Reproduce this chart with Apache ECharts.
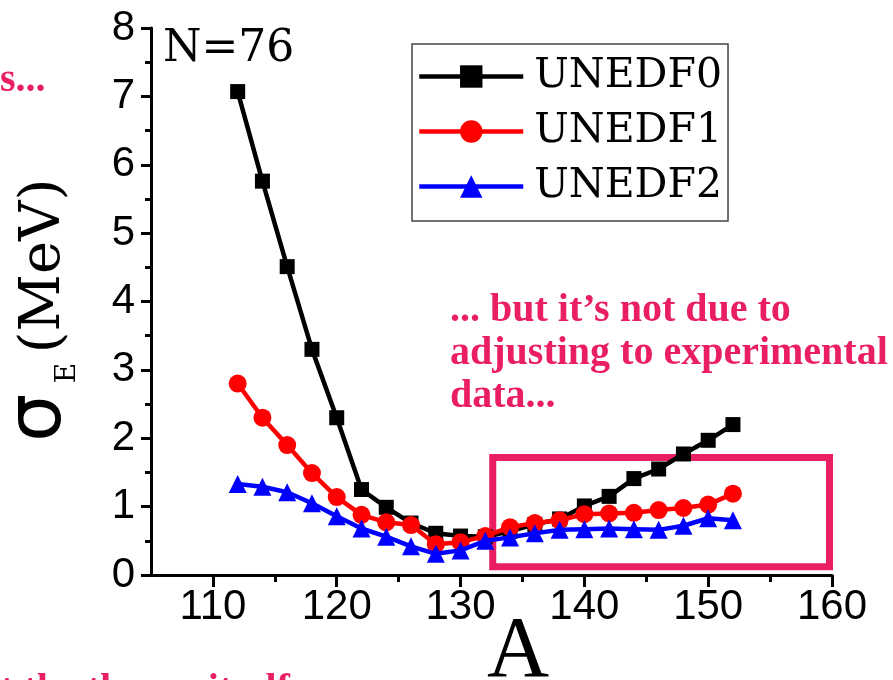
<!DOCTYPE html>
<html>
<head>
<meta charset="utf-8">
<script src="https://cdn.jsdelivr.net/npm/echarts@6/dist/echarts.min.js"></script>
<style>
  html, body { margin: 0; padding: 0; background: #fff; }
  #main { width: 893px; height: 680px; }
</style>
</head>
<body>
<div id="main"></div>
<script>
  // mass number A, N = 76 isotones
  let massNumbers = [112, 114, 116, 118, 120, 122, 124, 126, 128, 130, 132, 134, 136, 138, 140, 142, 144, 146, 148, 150, 152];
  let unedf0 = [7.07, 5.76, 4.51, 3.30, 2.30, 1.25, 0.99, 0.76, 0.61, 0.57, 0.56, 0.64, 0.74, 0.82, 1.01, 1.15, 1.41, 1.55, 1.77, 1.97, 2.20];
  let unedf1 = [2.80, 2.30, 1.90, 1.49, 1.14, 0.88, 0.77, 0.73, 0.45, 0.48, 0.57, 0.70, 0.76, 0.80, 0.89, 0.90, 0.91, 0.95, 0.98, 1.03, 1.19];
  let unedf2 = [1.33, 1.29, 1.21, 1.05, 0.86, 0.68, 0.56, 0.42, 0.31, 0.36, 0.50, 0.55, 0.61, 0.66, 0.67, 0.68, 0.67, 0.66, 0.72, 0.83, 0.80];
  let xMajorTicks = [110, 120, 130, 140, 150, 160];
  let xMinorTicks = [115, 125, 135, 145, 155];
  // highlighted region (data coords)
  let boxX = [132.6, 159.8];
  let boxY = [0.12, 1.72];

  let pink = '#e91e63';

  function pairs(ys) {
    return massNumbers.map((a, i) => [a, ys[i]]);
  }

  let chart = echarts.init(document.getElementById('main'));

  let option = {
    animation: false,
    backgroundColor: '#fff',
    grid: { left: 151, right: 61, top: 28, bottom: 105, containLabel: false, outerBoundsMode: 'none' },
    xAxis: [{
      type: 'value',
      min: 105,
      max: 160,
      axisLine: { show: true, lineStyle: { color: '#000', width: 3 } },
      axisTick: { show: true, customValues: xMajorTicks, length: 12, lineStyle: { color: '#000', width: 3 } },
      axisLabel: { customValues: xMajorTicks, fontFamily: 'Liberation Sans', fontSize: 42, color: '#000', margin: 11 },
      splitLine: { show: false }
    }, {
      // minor ticks only
      type: 'value',
      min: 105,
      max: 160,
      position: 'bottom',
      axisLine: { show: false },
      axisTick: { show: true, customValues: xMinorTicks, length: 7, lineStyle: { color: '#000', width: 3 } },
      axisLabel: { show: false },
      splitLine: { show: false }
    }],
    yAxis: {
      type: 'value',
      min: 0,
      max: 8,
      interval: 1,
      axisLine: { show: true, lineStyle: { color: '#000', width: 3 } },
      axisTick: { show: true, length: 10, lineStyle: { color: '#000', width: 3 } },
      minorTick: { show: true, splitNumber: 2, length: 6, lineStyle: { color: '#000', width: 3 } },
      axisLabel: { fontFamily: 'Liberation Sans', fontSize: 42, color: '#000', margin: 16 },
      splitLine: { show: false }
    },
    legend: {
      orient: 'vertical',
      left: 412,
      top: 44,
      itemWidth: 104,
      itemHeight: 28,
      itemGap: 14,
      padding: [12, 6, 14, 5],
      borderColor: '#444',
      borderWidth: 1.5,
      lineStyle: { width: 4.5 },
      textStyle: { fontFamily: 'DejaVu Serif', fontSize: 41, color: '#000', padding: [0, 0, 0, 6] },
      data: ['UNEDF0', 'UNEDF1', 'UNEDF2']
    },
    series: [
      {
        name: 'UNEDF0', type: 'line', data: pairs(unedf0),
        symbol: 'rect', symbolSize: 15,
        lineStyle: { color: '#000', width: 4.5 },
        itemStyle: { color: '#000' },
        z: 3,
        markArea: {
          silent: true,
          itemStyle: { color: 'rgba(0,0,0,0)', borderColor: pink, borderWidth: 7 },
          data: [[{ coord: [boxX[0], boxY[1]] }, { coord: [boxX[1], boxY[0]] }]]
        }
      },
      {
        name: 'UNEDF1', type: 'line', data: pairs(unedf1),
        symbol: 'circle', symbolSize: 18,
        lineStyle: { color: '#ff0000', width: 4.5 },
        itemStyle: { color: '#ff0000' },
        z: 4
      },
      {
        name: 'UNEDF2', type: 'line', data: pairs(unedf2),
        symbol: 'triangle', symbolSize: 18,
        lineStyle: { color: '#0000ff', width: 4.5 },
        itemStyle: { color: '#0000ff' },
        z: 5
      }
    ],
    graphic: [
      // axis titles
      {
        type: 'text', x: 518, y: 610,
        style: { text: 'A', font: '86px "Liberation Serif"', fill: '#000', align: 'center', verticalAlign: 'top' }
      },
      {
        type: 'text', x: 44, y: 266, rotation: Math.PI / 2,
        style: { text: '(MeV)', font: '56px "DejaVu Serif"', fill: '#000', align: 'center', verticalAlign: 'middle' }
      },
      {
        type: 'text', x: 40, y: 418, rotation: Math.PI / 2,
        style: { text: 'σ', font: '76px "DejaVu Sans"', fill: '#000', align: 'center', verticalAlign: 'middle' }
      },
      {
        type: 'text', x: 68, y: 373, rotation: Math.PI / 2,
        style: { text: 'E', font: '28px "DejaVu Serif"', fill: '#000', align: 'center', verticalAlign: 'middle' }
      },
      {
        type: 'text', x: 163, y: 50,
        style: { text: 'N=76', font: '44px "DejaVu Serif"', fill: '#000', align: 'left', verticalAlign: 'middle' }
      },
      // pink annotations
      {
        type: 'text', x: 450, y: 289,
        style: {
          text: '... but it’s not due to\nadjusting to experimental\ndata...',
          font: 'bold 40px "Liberation Serif"', lineHeight: 43, fill: pink, align: 'left', verticalAlign: 'top'
        }
      },
      {
        type: 'text', x: 0, y: 61,
        style: { text: 's...', font: 'bold 40px "Liberation Serif"', fill: pink, align: 'left', verticalAlign: 'top' }
      },
      {
        type: 'text', x: 0, y: 671,
        style: { text: 't the theory itself', font: 'bold 40px "Liberation Serif"', fill: pink, align: 'left', verticalAlign: 'top' }
      }
    ]
  };

  chart.setOption(option);
</script>
</body>
</html>
